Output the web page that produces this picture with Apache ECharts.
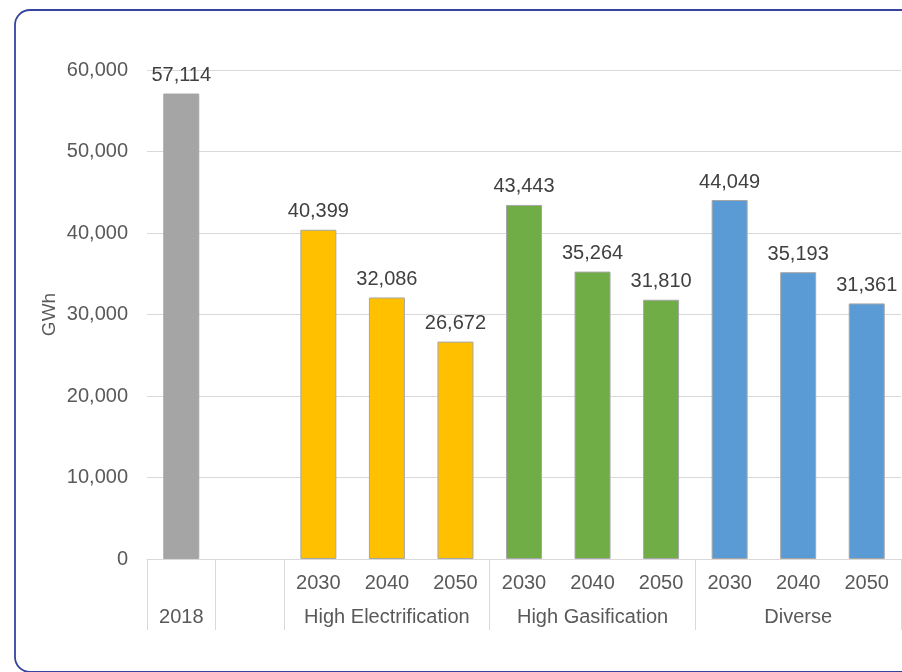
<!DOCTYPE html>
<html>
<head>
<meta charset="utf-8">
<script src="https://cdn.jsdelivr.net/npm/echarts@6/dist/echarts.min.js"></script>
<style>
  html, body { margin: 0; padding: 0; background: #ffffff; }
  #chart { width: 902px; height: 672px; }
</style>
</head>
<body>
<div id="chart"></div>
<script>
// Electricity demand (GWh): 2018 baseline and three 2030–2050 scenarios
const yearLabels = ['', '', '2030', '2040', '2050', '2030', '2040', '2050', '2030', '2040', '2050'];
const groupLabels = ['2018', '', '', 'High Electrification', '', '', 'High Gasification', '', '', 'Diverse', ''];
const demandGWh = [57114, null, 40399, 32086, 26672, 43443, 35264, 31810, 44049, 35193, 31361];
const yTicks = { min: 0, max: 60000, interval: 10000 };

// group boundaries on the lower label row (category indices where a separator starts)
const groupStarts = [0, 1, 2, 5, 8];

const barColors = ['#a5a5a5', null, '#ffc000', '#ffc000', '#ffc000',
  '#70ad47', '#70ad47', '#70ad47', '#5b9bd5', '#5b9bd5', '#5b9bd5'];

const font = 'Liberation Sans, Arial, Helvetica, sans-serif';
const axisGray = '#d9d9d9';
const textGray = '#595959';

const chart = echarts.init(document.getElementById('chart'), null, { renderer: 'canvas' });

chart.setOption({
  animation: false,
  backgroundColor: '#ffffff',
  textStyle: { fontFamily: font },
  graphic: [{
    type: 'rect',
    silent: true,
    shape: { x: 15, y: 10, width: 960, height: 662, r: 15 },
    style: { fill: 'none', stroke: '#34449f', lineWidth: 1.8 }
  }],
  grid: { left: 147, right: 1, top: 70, bottom: 113, containLabel: false },
  xAxis: [{
    type: 'category',
    data: yearLabels.map((y, i) => y || groupLabels[i]),
    position: 'bottom',
    axisLine: { show: true, lineStyle: { color: axisGray, width: 1 } },
    axisTick: { show: false },
    axisLabel: {
      interval: 0,
      margin: 14,
      fontSize: 20,
      color: textGray,
      fontFamily: font,
      formatter: (v, i) => yearLabels[i]
    },
    splitLine: { show: false }
  }, {
    type: 'category',
    data: groupLabels.map((g, i) => g || yearLabels[i] || ' '),
    position: 'bottom',
    axisLine: { show: false },
    axisTick: {
      show: true,
      length: 71,
      interval: (index) => groupStarts.indexOf(index) >= 0,
      lineStyle: { color: axisGray, width: 1 }
    },
    axisLabel: {
      interval: 0,
      margin: 48,
      fontSize: 20,
      color: textGray,
      fontFamily: font,
      formatter: (v, i) => groupLabels[i]
    },
    splitLine: { show: false }
  }],
  yAxis: {
    type: 'value',
    min: yTicks.min,
    max: yTicks.max,
    interval: yTicks.interval,
    name: 'GWh',
    nameLocation: 'middle',
    nameGap: 88,
    nameMoveOverlap: false,
    nameRotate: 90,
    nameTextStyle: { fontSize: 19, color: textGray, fontFamily: font },
    axisLine: { show: false },
    axisTick: { show: false },
    axisLabel: {
      margin: 19,
      fontSize: 20,
      color: textGray,
      fontFamily: font,
      formatter: (v) => v.toLocaleString('en-US')
    },
    splitLine: { show: true, lineStyle: { color: axisGray, width: 1 } }
  },
  series: [{
    type: 'bar',
    xAxisIndex: 0,
    barWidth: 36,
    data: demandGWh.map((v, i) => ({
      value: v,
      itemStyle: { color: barColors[i] || 'transparent' }
    })),
    itemStyle: { borderColor: '#a6a6a6', borderWidth: 1 },
    label: {
      show: true,
      position: 'top',
      distance: 8,
      fontSize: 20,
      color: '#404040',
      fontFamily: font,
      formatter: (p) => (p.value == null ? '' : Number(p.value).toLocaleString('en-US'))
    }
  }]
});
</script>
</body>
</html>
